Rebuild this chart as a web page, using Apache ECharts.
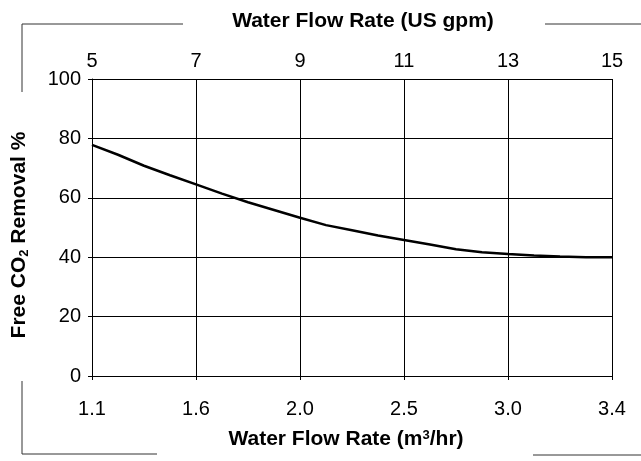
<!DOCTYPE html>
<html>
<head>
<meta charset="utf-8">
<script src="https://cdn.jsdelivr.net/npm/echarts@6/dist/echarts.min.js"></script>
<style>
html,body{margin:0;padding:0;background:#fff;}
#chart{width:641px;height:461px;}
</style>
</head>
<body>
<div id="chart"></div>
<script>
// Data
var flowGpm = [5, 5.5, 6, 6.5, 7, 7.5, 8, 8.5, 9, 9.5, 10, 10.5, 11, 11.5, 12, 12.5, 13, 13.5, 14, 14.5, 15];
var co2Removal = [77.8, 74.5, 70.8, 67.6, 64.5, 61.4, 58.5, 55.9, 53.3, 50.8, 49.1, 47.3, 45.8, 44.3, 42.7, 41.7, 41.1, 40.6, 40.2, 40.0, 40.0];
var topTicksGpm = [5, 7, 9, 11, 13, 15];
var bottomTickLabels = ['1.1', '1.6', '2.0', '2.5', '3.0', '3.4'];

var FONT = '"Liberation Sans", Arial, sans-serif';
var chart = echarts.init(document.getElementById('chart'), null, {renderer: 'canvas'});

function bottomLabel(v) {
  var i = topTicksGpm.indexOf(Math.round(v * 1000) / 1000);
  return i >= 0 ? bottomTickLabels[i] : '';
}

var option = {
  backgroundColor: '#fff',
  animation: false,
  grid: {left: 92, right: 29, top: 79, bottom: 85, containLabel: false},
  xAxis: [
    {
      type: 'value', position: 'bottom', min: 5, max: 15, interval: 2,
      name: 'Water Flow Rate (m{sup|3}/hr)',
      nameLocation: 'middle', nameGap: 53,
      nameTextStyle: {
        fontFamily: FONT, fontSize: 21, fontWeight: 'bold', color: '#000',
        padding: [0, 12, 0, 0],
        rich: {sup: {fontFamily: FONT, fontSize: 13, fontWeight: 'bold', color: '#000', verticalAlign: 'top', lineHeight: 14}}
      },
      axisLine: {show: true, lineStyle: {color: '#000', width: 1}},
      axisTick: {show: true, inside: false, length: 4, lineStyle: {color: '#000'}},
      axisLabel: {formatter: bottomLabel, fontFamily: FONT, fontSize: 20, color: '#000', margin: 23},
      splitLine: {show: true, lineStyle: {color: '#000', width: 1}}
    },
    {
      type: 'value', position: 'top', min: 5, max: 15, interval: 2,
      name: 'Water Flow Rate (US gpm)',
      nameLocation: 'middle', nameGap: 47,
      nameTextStyle: {fontFamily: FONT, fontSize: 21, fontWeight: 'bold', color: '#000', padding: [0, 0, 0, 22]},
      axisLine: {show: true, lineStyle: {color: '#000', width: 1}},
      axisTick: {show: false},
      axisLabel: {fontFamily: FONT, fontSize: 20, color: '#000', margin: 8},
      splitLine: {show: false}
    }
  ],
  yAxis: {
    type: 'value', min: 0, max: 100, interval: 20,
    name: 'Free CO{sub|2} Removal %',
    nameLocation: 'middle', nameGap: 61, nameRotate: 90,
    nameTextStyle: {
      fontFamily: FONT, fontSize: 21, fontWeight: 'bold', color: '#000',
      padding: [0, 15, 0, 0],
      rich: {sub: {fontFamily: FONT, fontSize: 13, fontWeight: 'bold', color: '#000', verticalAlign: 'bottom', lineHeight: 23}}
    },
    axisLine: {show: true, lineStyle: {color: '#000', width: 1}},
    axisTick: {show: true, inside: false, length: 4, lineStyle: {color: '#000'}},
    axisLabel: {fontFamily: FONT, fontSize: 20, color: '#000', margin: 11},
    splitLine: {show: true, lineStyle: {color: '#000', width: 1}}
  },
  series: [{
    type: 'line', xAxisIndex: 0,
    data: flowGpm.map(function (g, i) { return [g, co2Removal[i]]; }),
    showSymbol: false, smooth: false,
    lineStyle: {color: '#000', width: 2.5}
  }],
  graphic: [
    {type: 'polyline', shape: {points: [[22, 92], [22, 24], [183, 24]]}, style: {stroke: '#333', lineWidth: 1, fill: null}},
    {type: 'line', shape: {x1: 545, y1: 24, x2: 641, y2: 24}, style: {stroke: '#333', lineWidth: 1}},
    {type: 'polyline', shape: {points: [[22, 381], [22, 454], [157, 454]]}, style: {stroke: '#333', lineWidth: 1, fill: null}},
    {type: 'line', shape: {x1: 533, y1: 455, x2: 641, y2: 455}, style: {stroke: '#333', lineWidth: 1}}
  ]
};
chart.setOption(option);
</script>
</body>
</html>
